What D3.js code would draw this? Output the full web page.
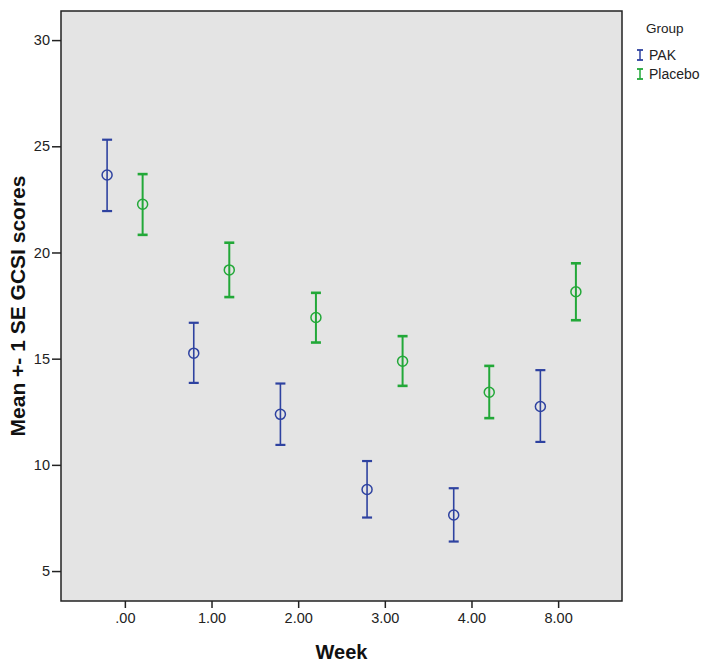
<!DOCTYPE html>
<html>
<head>
<meta charset="utf-8">
<script src="https://cdn.jsdelivr.net/npm/d3@7"></script>
<style>
    body { margin: 0; background: #fff; }
    svg { font-family: "Liberation Sans", Arial, sans-serif; }
</style>
</head>
<body>
<div id="chart"></div>
<script>
// values
const weeks = ['.00', '1.00', '2.00', '3.00', '4.00', '8.00'];
const groups = ['PAK', 'Placebo'];
const pakMean = [23.65, 15.26, 12.38, 8.84, 7.64, 12.75];
const pakUpper = [25.31, 16.69, 13.83, 10.18, 8.90, 14.46];
const pakLower = [21.95, 13.86, 10.94, 7.52, 6.39, 11.08];
const placeboMean = [22.27, 19.18, 16.94, 14.88, 13.42, 18.15];
const placeboUpper = [23.69, 20.46, 18.10, 16.06, 14.66, 19.49];
const placeboLower = [20.83, 17.90, 15.76, 13.72, 12.20, 16.81];
const yTicks = [5, 10, 15, 20, 25, 30];

const colors = { PAK: '#2e42a0', Placebo: '#22a838' };

let width = 708, height = 668;
let margin = { left: 61, top: 11, right: 86, bottom: 67 };

let svg = d3.select('#chart')
    .append('svg')
    .attr('width', width)
    .attr('height', height);

let x = d3.scalePoint()
    .domain(weeks)
    .range([margin.left, width - margin.right])
    .padding(0.737);

let y = d3.scaleLinear()
    .domain([3.59, 31.37])
    .range([height - margin.bottom, margin.top]);

let offset = x.step() * 0.205;

// plot background
svg.append('rect')
    .attr('x', margin.left)
    .attr('y', margin.top)
    .attr('width', width - margin.right - margin.left)
    .attr('height', height - margin.bottom - margin.top)
    .style('fill', '#e4e4e4')
    .style('stroke', '#222')
    .style('stroke-width', 1.5);

// axes
let yAxis = svg.append('g')
    .attr('transform', `translate(${margin.left},0)`)
    .call(d3.axisLeft(y).tickValues(yTicks).tickSize(9).tickPadding(2));
let xAxis = svg.append('g')
    .attr('transform', `translate(0,${height - margin.bottom})`)
    .call(d3.axisBottom(x).tickSize(7).tickPadding(5));
[yAxis, xAxis].forEach(a => {
    a.select('.domain').remove();
    a.selectAll('line').style('stroke', '#222').style('stroke-width', 1.5);
    a.selectAll('text').style('font-size', '14.5px').style('fill', '#222')
        .style('font-family', '"Liberation Sans", Arial, sans-serif');
});

// error bars
let series = [
    { name: 'PAK', mean: pakMean, upper: pakUpper, lower: pakLower, dx: -offset, sw: 1.6 },
    { name: 'Placebo', mean: placeboMean, upper: placeboUpper, lower: placeboLower, dx: offset, sw: 2 }
];

series.forEach(s => {
    let g = svg.append('g').attr('class', 'series');
    let pts = weeks.map((w, i) => ({
        cx: x(w) + s.dx,
        m: y(s.mean[i]),
        hi: y(s.upper[i]),
        lo: y(s.lower[i])
    }));
    g.selectAll('.stem').data(pts).enter().append('line')
        .attr('x1', d => d.cx).attr('x2', d => d.cx)
        .attr('y1', d => d.hi).attr('y2', d => d.lo)
        .style('stroke', colors[s.name]).style('stroke-width', s.sw);
    g.selectAll('.capHi').data(pts).enter().append('line')
        .attr('x1', d => d.cx - 5).attr('x2', d => d.cx + 5)
        .attr('y1', d => d.hi).attr('y2', d => d.hi)
        .style('stroke', colors[s.name]).style('stroke-width', s.sw + 0.6);
    g.selectAll('.capLo').data(pts).enter().append('line')
        .attr('x1', d => d.cx - 5).attr('x2', d => d.cx + 5)
        .attr('y1', d => d.lo).attr('y2', d => d.lo)
        .style('stroke', colors[s.name]).style('stroke-width', s.sw + 0.6);
    g.selectAll('circle').data(pts).enter().append('circle')
        .attr('cx', d => d.cx).attr('cy', d => d.m).attr('r', 5)
        .style('fill', 'none')
        .style('stroke', colors[s.name]).style('stroke-width', 1.5);
});

// axis titles
svg.append('text')
    .attr('x', (margin.left + width - margin.right) / 2)
    .attr('y', 659)
    .attr('text-anchor', 'middle')
    .style('font-size', '20px').style('font-weight', 'bold').style('fill', '#111')
    .text('Week');

svg.append('text')
    .attr('transform', 'translate(25,306) rotate(-90)')
    .attr('text-anchor', 'middle')
    .style('font-size', '21px').style('font-weight', 'bold').style('fill', '#111')
    .text('Mean +- 1 SE GCSI scores');

// legend
let legend = svg.append('g').attr('transform', 'translate(637,0)');
legend.append('text')
    .attr('x', 9).attr('y', 33)
    .style('font-size', '13.5px').style('fill', '#222')
    .text('Group');
groups.forEach((name, i) => {
    let ly = 55 + i * 19;
    let c = colors[name];
    legend.append('line').attr('x1', 3).attr('x2', 3).attr('y1', ly - 5).attr('y2', ly + 5)
        .style('stroke', c).style('stroke-width', 1.5);
    legend.append('line').attr('x1', 0).attr('x2', 6).attr('y1', ly - 5).attr('y2', ly - 5)
        .style('stroke', c).style('stroke-width', 1.8);
    legend.append('line').attr('x1', 0).attr('x2', 6).attr('y1', ly + 5).attr('y2', ly + 5)
        .style('stroke', c).style('stroke-width', 1.8);
    legend.append('text')
        .attr('x', 12).attr('y', ly + 5)
        .style('font-size', '14px').style('fill', '#222')
        .text(name);
});
</script>
</body>
</html>
